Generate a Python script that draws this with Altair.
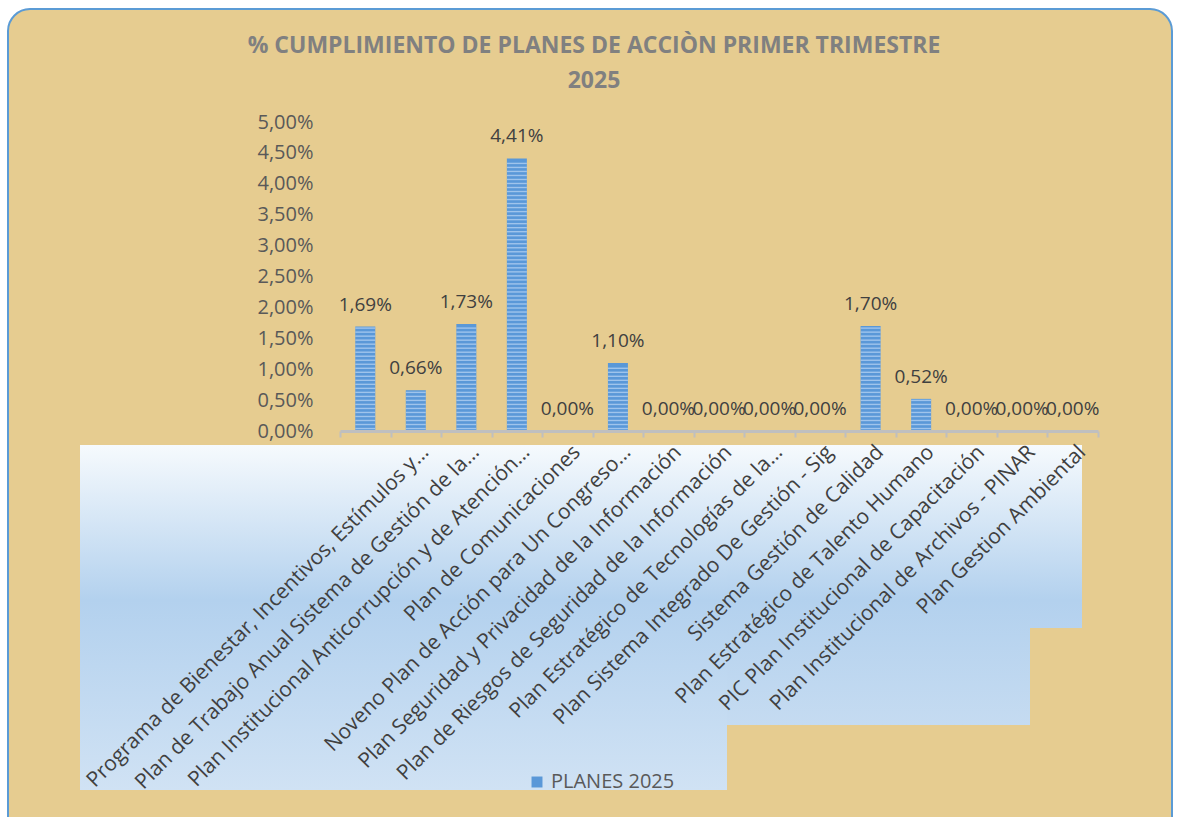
import altair as alt
import pandas as pd

planes = [
    "Programa de Bienestar, Incentivos, Estímulos y…",
    "Plan de Trabajo Anual Sistema de Gestión de la…",
    "Plan Institucional Anticorrupción y de Atención…",
    "Plan de Comunicaciones",
    "Noveno Plan de Acción para Un Congreso…",
    "Plan Seguridad y Privacidad de la Información",
    "Plan de Riesgos de Seguridad de la Información",
    "Plan Estratégico de Tecnologías de la…",
    "Plan Sistema Integrado De Gestión - Sig",
    "Sistema Gestión de Calidad",
    "Plan Estratégico de Talento Humano",
    "PIC Plan Institucional de Capacitación",
    "Plan Institucional de Archivos - PINAR",
    "Plan Gestion Ambiental",
    " ",
]
valores = [0.0169, 0.0066, 0.0173, 0.0441, 0.0, 0.0110, 0.0, 0.0, 0.0, 0.0,
           0.0170, 0.0052, 0.0, 0.0, 0.0]
serie = "PLANES 2025"
y_ticks = [0, 0.005, 0.01, 0.015, 0.02, 0.025, 0.03, 0.035, 0.04, 0.045, 0.05]

df = pd.DataFrame({"plan": planes, "valor": valores, "serie": [serie] * len(planes)})
one = pd.DataFrame({"d": [0]})

W, H = 758, 309
FONT = "Open Sans"
BAR = "#5A98D8"
STRIPE = "#A6C9EE"


def grad(stops):
    return alt.Gradient(
        gradient="linear", x1=0, x2=0, y1=0, y2=1,
        stops=[alt.GradientStop(color=c, offset=o) for o, c in stops],
    )


frame = alt.Chart(one).mark_rect(
    fill="#E6CC90", stroke="#5B9BD5", strokeWidth=2, cornerRadius=22
).encode(x=alt.value(-332), x2=alt.value(832), y=alt.value(-113), y2=alt.value(720))

blue1 = alt.Chart(one).mark_rect(
    fill=grad([(0, "#F6FAFD"), (0.45, "#B3D1EE"), (1, "#D0E2F4")])
).encode(x=alt.value(-260), x2=alt.value(387), y=alt.value(323), y2=alt.value(668))
blue2 = alt.Chart(one).mark_rect(
    fill=grad([(0, "#F6FAFD"), (0.55, "#B3D1EE"), (1, "#C5DBF1")])
).encode(x=alt.value(387), x2=alt.value(690), y=alt.value(323), y2=alt.value(603))
blue3 = alt.Chart(one).mark_rect(
    fill=grad([(0, "#F6FAFD"), (0.85, "#B3D1EE"), (1, "#B7D3EF")])
).encode(x=alt.value(690), x2=alt.value(742), y=alt.value(323), y2=alt.value(506))

x_enc = alt.X(
    "plan:N", sort=None, title=None,
    scale=alt.Scale(paddingInner=0, paddingOuter=0),
    axis=alt.Axis(
        labelAngle=-45, labelAlign="right", labelBaseline="top",
        labelFont=FONT, labelFontSize=21, labelColor="#404040",
        labelLimit=800, labelPadding=4, labelOffset=52, labelOverlap=False,
        domainColor="#BFBFBF", domainWidth=3, tickColor="#BFBFBF",
        tickWidth=2, tickSize=6, tickBand="extent", zindex=2,
    ),
)
y_enc = alt.Y(
    "valor:Q", title=None,
    scale=alt.Scale(domain=[0, 0.05], nice=False),
    axis=alt.Axis(
        values=y_ticks, tickCount=len(y_ticks),
        labelExpr="replace(format(datum.value, '.2%'), '.', ',')",
        labelFont=FONT, labelFontSize=20, labelColor="#595959", labelOverlap=False,
        ticks=False, tickSize=0, domain=False, grid=False, labelPadding=27,
        zindex=2,
    ),
)

bars = alt.Chart(df).mark_bar(size=20).encode(
    x=x_enc, y=y_enc,
    color=alt.Color(
        "serie:N", title=None,
        scale=alt.Scale(range=[BAR]),
        legend=alt.Legend(
            orient="none", legendX=187, legendY=650, symbolType="square",
            symbolSize=120, labelFont=FONT, labelFontSize=20, labelColor="#595959",
            padding=0, symbolStrokeWidth=0,
        ),
    ),
)

# horizontal stripe pattern of the bars, drawn through the y scale
stripes = alt.Chart(df).transform_calculate(
    franja="sequence(0.0004, datum.valor - 0.0002, 0.00065)"
).transform_flatten(["franja"]).mark_tick(
    size=20, thickness=1.4, color=STRIPE, opacity=0.9
).encode(x=alt.X("plan:N", sort=None), y=alt.Y("franja:Q"))

labels = alt.Chart(df).transform_calculate(
    etiqueta="replace(format(datum.valor, '.2%'), '.', ',')"
).mark_text(baseline="bottom", dy=-12, font=FONT, fontSize=19, color="#404040").encode(
    x=alt.X("plan:N", sort=None), y="valor:Q", text="etiqueta:N"
)

chart = alt.layer(frame, blue1, blue2, blue3, bars, stripes, labels).properties(
    width=W, height=H,
    title=alt.TitleParams(
        text=["% CUMPLIMIENTO DE PLANES DE ACCIÒN PRIMER TRIMESTRE", "2025"],
        font=FONT, fontSize=23, fontWeight="bold", color="#808080",
        anchor="middle", offset=-85, lineHeight=35, dx=-125,
    ),
    autosize=alt.AutoSizeParams(type="none"),
    padding={"left": 340, "top": 122, "right": 79, "bottom": 386},
).configure(background="white").configure_view(stroke=None)

chart.save("out.html", embed_options={"renderer": "svg", "actions": False})
